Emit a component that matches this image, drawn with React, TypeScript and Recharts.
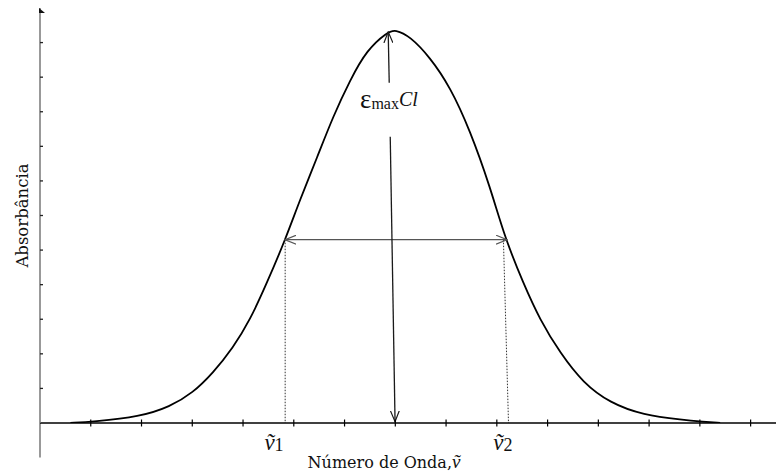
import React from 'react';
import { LineChart, Line, XAxis, YAxis, ReferenceLine, ReferenceDot } from 'recharts';

// Absorption band (x in tick units, y in tick units)
const curveX = [0.6, 1.04, 1.97, 2.56, 3.01, 3.41, 3.8, 4.14, 4.47, 4.83, 5.12, 5.46, 5.77, 6.11, 6.44, 6.84, 7.0, 7.29, 7.68, 8.08, 8.47, 8.87, 9.16, 9.52, 9.85, 10.25, 10.7, 11.23, 11.88, 12.67, 13.06, 13.4];
const curveY = [0.0, 0.04, 0.18, 0.47, 0.87, 1.45, 2.17, 2.98, 4.05, 5.29, 6.45, 7.68, 8.85, 9.92, 10.79, 11.3, 11.38, 11.18, 10.58, 9.72, 8.47, 6.82, 5.35, 4.05, 2.98, 2.02, 1.16, 0.58, 0.23, 0.09, 0.04, 0.0];

const xTickValues = [1, 2, 3, 4, 5, 6, 7, 8, 9, 10, 11, 12, 13, 14];
const yTickValues = [1, 2, 3, 4, 5, 6, 7, 8, 9, 10, 11];
const xDomain = [0, 14.5];
const yDomain = [0, 12];

// annotation anchors
const V1 = 4.83;
const V2_TOP = 9.13;
const V2_BOTTOM = 9.23;
const ARROW_RIGHT = 9.2;
const HALF_Y = 5.3;
const V1_LABEL_X = 4.61;
const V2_LABEL_X = 9.12;
const PEAK_TOP = { x: 6.86, y: 11.31 };
const TOP_SEG_END = { x: 6.88, y: 9.84 };
const LOW_SEG_START = { x: 6.9, y: 8.28 };
const BASE_END = { x: 6.995, y: 0.04 };
const EPS_POS = { x: 6.305, y: 9.11 };

const xLabelText = 'Número de Onda,';
const yLabelText = 'Absorbância';

const data = curveX.map((x, i) => ({ x, y: curveY[i] }));
const xAxisTicks = [...xTickValues, V1_LABEL_X, V2_LABEL_X].sort((a, b) => a - b);

const serif = "'Liberation Serif', 'DejaVu Serif', serif";
const labelFont = "'DejaVu Serif', serif";

const XTick = (props: any) => {
  const { x, y, payload } = props;
  const v = payload.value;
  if (v === V1_LABEL_X || v === V2_LABEL_X) {
    return (
      <g>
        <text x={x} y={y + 27} textAnchor="middle" fontFamily={serif} fill="#111">
          <tspan fontStyle="italic" fontSize={23}>ṽ</tspan>
          <tspan fontSize={18} dy={1}>{v === V1_LABEL_X ? '1' : '2'}</tspan>
        </text>
      </g>
    );
  }
  return (
    <g>
      <line x1={x} x2={x} y1={y - 3.5} y2={y + 3.5} stroke="#000" strokeWidth={1.2} />
    </g>
  );
};

const YTick = (props: any) => {
  const { x, y } = props;
  return (
    <g>
      <line x1={x} x2={x + 3} y1={y} y2={y} stroke="#222" strokeWidth={1.3} />
    </g>
  );
};

const XLabel = (props: any) => {
  const vb = props.viewBox || { x: 40, y: 423 };
  return (
    <text x={vb.x + 344} y={vb.y + 45} textAnchor="middle" fontFamily={labelFont} fontSize={16} fill="#111">
      {xLabelText}
      <tspan fontStyle="italic" fontFamily={serif} fontSize={19}>ṽ</tspan>
    </text>
  );
};

const YLabel = (props: any) => {
  const vb = props.viewBox || { x: 0, y: 8, width: 40, height: 415 };
  const cx = vb.x + 28;
  const cy = vb.y + vb.height / 2;
  return (
    <text x={cx} y={cy} transform={`rotate(-90 ${cx} ${cy})`} textAnchor="middle" fontFamily={labelFont} fontSize={16.5} fill="#111">
      {yLabelText}
    </text>
  );
};

const arrowEnd = (p: any) => (
  <line x1={p.x1} y1={p.y1} x2={p.x2} y2={p.y2} stroke="#1a1a1a" strokeWidth={1.3} markerEnd="url(#openArrow)" />
);
const arrowBoth = (p: any) => (
  <line x1={p.x1} y1={p.y1} x2={p.x2} y2={p.y2} stroke="#555" strokeWidth={1.3} markerStart="url(#openArrowG)" markerEnd="url(#openArrowG)" />
);
const dotted = (p: any) => (
  <line x1={p.x1} y1={p.y1} x2={p.x2} y2={p.y2} stroke="#333" strokeWidth={1} strokeDasharray="1.5 1.5" />
);
const plainSeg = (p: any) => (
  <line x1={p.x1} y1={p.y1} x2={p.x2} y2={p.y2} stroke="#777" strokeWidth={1.5} />
);

export default function App() {
  return (
    <div style={{ position: 'absolute', left: 0, top: 0, width: 776, height: 472, background: '#fff' }}>
      <svg width={0} height={0} style={{ position: 'absolute' }}>
        <defs>
          <marker id="openArrow" viewBox="0 0 12 10" refX="11" refY="5" markerWidth="12" markerHeight="10" markerUnits="userSpaceOnUse" orient="auto-start-reverse">
            <path d="M0,0.5 L11,5 L0,9.5" fill="none" stroke="#1a1a1a" strokeWidth={1.2} />
          </marker>
          <marker id="openArrowG" viewBox="0 0 12 10" refX="11" refY="5" markerWidth="12" markerHeight="10" markerUnits="userSpaceOnUse" orient="auto-start-reverse">
            <path d="M0,0.5 L11,5 L0,9.5" fill="none" stroke="#555" strokeWidth={1.2} />
          </marker>
        </defs>
      </svg>
      <LineChart width={776} height={472} data={data} margin={{ top: 8, right: 0, bottom: 0, left: 0 }}>
        <XAxis
          dataKey="x"
          type="number"
          domain={xDomain}
          allowDataOverflow
          ticks={xAxisTicks}
          interval={0}
          tickSize={0}
          tickMargin={0}
          tickLine={false}
          axisLine={{ stroke: '#000', strokeWidth: 1.6 }}
          tick={XTick}
          height={49}
          label={<XLabel />}
        />
        <YAxis
          type="number"
          domain={yDomain}
          allowDataOverflow
          ticks={yTickValues}
          interval={0}
          width={40}
          tickSize={0}
          tickMargin={0}
          tickLine={false}
          axisLine={{ stroke: '#777', strokeWidth: 1.5 }}
          tick={YTick}
          label={<YLabel />}
        />
        <ReferenceLine segment={[{ x: 0, y: 0 }, { x: 0, y: -1 }]} ifOverflow="visible" shape={plainSeg} />
        <ReferenceDot
          x={0}
          y={12}
          r={0}
          ifOverflow="visible"
          shape={(p: any) => <path d={`M${p.cx - 1},${p.cy} L${p.cx + 5},${p.cy + 5} L${p.cx - 1},${p.cy + 5} Z`} fill="#111" />}
        />
        <Line type="basis" dataKey="y" stroke="#000" strokeWidth={1.8} dot={false} isAnimationActive={false} />
        <ReferenceLine segment={[{ x: V1, y: HALF_Y }, { x: V1, y: 0 }]} ifOverflow="visible" shape={dotted} />
        <ReferenceLine segment={[{ x: V2_TOP, y: HALF_Y }, { x: V2_BOTTOM, y: 0 }]} ifOverflow="visible" shape={dotted} />
        <ReferenceLine segment={[{ x: V1, y: HALF_Y }, { x: ARROW_RIGHT, y: HALF_Y }]} ifOverflow="visible" shape={arrowBoth} />
        <ReferenceLine segment={[TOP_SEG_END, PEAK_TOP]} ifOverflow="visible" shape={arrowEnd} />
        <ReferenceLine segment={[LOW_SEG_START, BASE_END]} ifOverflow="visible" shape={arrowEnd} />
        <ReferenceDot
          x={EPS_POS.x}
          y={EPS_POS.y}
          r={0}
          ifOverflow="visible"
          shape={(p: any) => (
            <text x={p.cx} y={p.cy} fontFamily={serif} fill="#111">
              <tspan fontSize={27}>ε</tspan>
              <tspan fontSize={16} dy={1}>max</tspan>
              <tspan fontSize={20} fontStyle="italic" dy={-3}>Cl</tspan>
            </text>
          )}
        />
      </LineChart>
    </div>
  );
}
